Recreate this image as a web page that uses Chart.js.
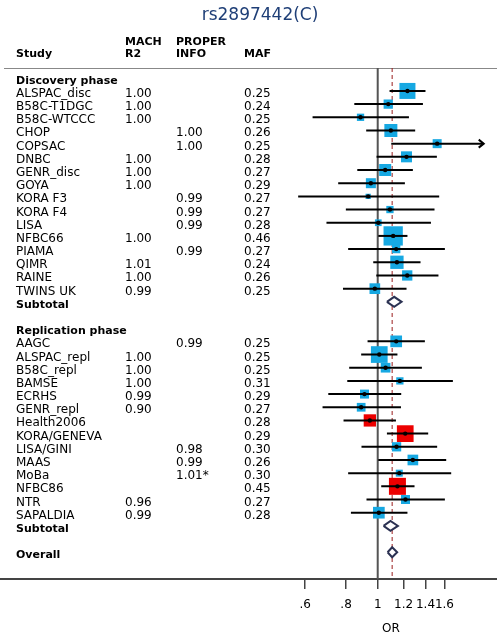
<!DOCTYPE html>
<html>
<head>
<meta charset="utf-8">
<script src="https://cdn.jsdelivr.net/npm/chart.js@4.4.1/dist/chart.umd.min.js"></script>
<style>
  html, body { margin: 0; padding: 0; background: #fff; }
  canvas { display: block; }
</style>
</head>
<body>
<canvas id="c" width="497" height="636"></canvas>
<script>
// ---------- DATA ----------
const titleText = 'rs2897442(C)';
const headerPhase1 = 'Discovery phase';
const headerPhase2 = 'Replication phase';

const discStudies = ['ALSPAC_disc','B58C-T1DGC','B58C-WTCCC','CHOP','COPSAC','DNBC','GENR_disc','GOYA','KORA F3','KORA F4','LISA','NFBC66','PIAMA','QIMR','RAINE','TWINS UK'];
const discMach    = ['1.00','1.00','1.00','','','1.00','1.00','1.00','','','','1.00','','1.01','1.00','0.99'];
const discProper  = ['','','','1.00','1.00','','','','0.99','0.99','0.99','','0.99','','',''];
const discMaf     = ['0.25','0.24','0.25','0.26','0.25','0.28','0.27','0.29','0.27','0.27','0.28','0.46','0.27','0.24','0.26','0.25'];
const discOR      = [1.233,1.077,0.886,1.097,1.52,1.225,1.054,0.953,0.935,1.090,1.004,1.115,1.139,1.145,1.231,0.980];
const discLo      = [1.087,0.848,0.632,0.922,1.10,0.992,0.866,0.757,0.571,0.799,0.697,1.004,0.812,0.969,0.990,0.783];
const discHi      = [1.400,1.375,1.246,1.302,2.11,1.517,1.281,1.211,1.542,1.492,1.455,1.233,1.605,1.352,1.534,1.225];
const discWeight  = [25.6,8.6,5.3,16.9,8.1,12.1,14.4,10.0,2.8,5.3,4.5,37.2,6.9,17.7,10.6,11.4];
const discArrow   = [false,false,false,false,true,false,false,false,false,false,false,false,false,false,false,false];
const discGroup   = ['b','b','b','b','b','b','b','b','b','b','b','b','b','b','b','b'];
const discSubtotal = [1.123, 1.067, 1.183]; // OR, lo, hi

const repStudies = ['AAGC','ALSPAC_repl','B58C_repl','BAMSE','ECRHS','GENR_repl','Health2006','KORA/GENEVA','LISA/GINI','MAAS','MoBa','NFBC86','NTR','SAPALDIA'];
const repMach    = ['','1.00','1.00','1.00','0.99','0.90','','','','','','','0.96','0.99'];
const repProper  = ['0.99','','','','','','','','0.98','0.99','1.01*','','',''];
const repMaf     = ['0.25','0.25','0.25','0.31','0.29','0.27','0.28','0.29','0.30','0.26','0.30','0.45','0.27','0.28'];
const repOR      = [1.139,1.011,1.057,1.169,0.911,0.890,0.946,1.214,1.142,1.281,1.164,1.149,1.216,1.008];
const repLo      = [0.931,0.890,0.818,0.807,0.706,0.678,0.786,1.067,0.892,1.004,0.812,1.025,0.924,0.828];
const repHi      = [1.394,1.149,1.365,1.698,1.180,1.178,1.137,1.427,1.520,1.620,1.678,1.296,1.605,1.233];
const repWeight  = [13.7,27.9,9.4,5.3,8.1,7.6,15.1,27.9,8.6,11.4,4.9,28.9,8.1,13.7];
const repArrow   = [false,false,false,false,false,false,false,false,false,false,false,false,false,false];
const repGroup   = ['b','b','b','b','b','b','r','r','b','b','b','r','b','b'];
const repSubtotal = [1.094, 1.042, 1.153];

const overall = [1.107, 1.072, 1.147];

const tickValues = [0.6, 0.8, 1, 1.2, 1.4, 1.6];
const tickLabels = ['.6', '.8', '1', '1.2', '1.4', '1.6'];
const axisTitle = 'OR';

// ---------- ROW LAYOUT ----------
const discHeaderRow = 0;
const discStartRow = 1;
const discSubRow = discStartRow + discStudies.length;
const repHeaderRow = discSubRow + 2;
const repStartRow = repHeaderRow + 1;
const repSubRow = repStartRow + repStudies.length;
const overallRow = repSubRow + 2;
const yMin = -0.74, yMax = 38.03;
const xMin = 0.0699, xMax = 2.317;

const studies = [];
discStudies.forEach((s, i) => studies.push({name: s, mach: discMach[i], proper: discProper[i], maf: discMaf[i],
  or: discOR[i], lo: discLo[i], hi: discHi[i], w: discWeight[i], arrow: discArrow[i], g: discGroup[i], row: discStartRow + i}));
repStudies.forEach((s, i) => studies.push({name: s, mach: repMach[i], proper: repProper[i], maf: repMaf[i],
  or: repOR[i], lo: repLo[i], hi: repHi[i], w: repWeight[i], arrow: repArrow[i], g: repGroup[i], row: repStartRow + i}));

const summaries = [
  {label: 'Subtotal', v: discSubtotal, row: discSubRow},
  {label: 'Subtotal', v: repSubtotal, row: repSubRow},
  {label: 'Overall', v: overall, row: overallRow}
];

const BLUE = 'rgb(22,168,226)';
const RED = 'rgb(236,0,0)';

// ---------- DATASETS ----------
const datasets = [];
// reference lines
datasets.push({data: [{x: 1, y: yMin}, {x: 1, y: yMax}], showLine: true, borderColor: '#555', borderWidth: 2,
  pointRadius: 0, order: 5});
datasets.push({data: [{x: overall[0], y: yMin}, {x: overall[0], y: yMax}], showLine: true, borderColor: '#9B1C1C',
  borderWidth: 1, borderDash: [4, 3], pointRadius: 0, order: 5});
// squares
datasets.push({data: studies.map(s => ({x: s.or, y: s.row})), showLine: false, pointStyle: 'rect',
  pointRadius: ctx => Math.sqrt(studies[ctx.dataIndex].w * 10) / Math.SQRT2,
  pointBackgroundColor: ctx => studies[ctx.dataIndex].g === 'r' ? RED : BLUE,
  pointBorderWidth: 0, borderWidth: 0, order: 3});
// CI lines
studies.forEach(s => datasets.push({data: [{x: s.lo, y: s.row}, {x: s.hi, y: s.row}], showLine: true,
  borderColor: '#000', borderWidth: 2, pointRadius: 0, order: 2}));
// dots
datasets.push({data: studies.map(s => ({x: s.or, y: s.row})), showLine: false, pointStyle: 'circle',
  pointRadius: 2.2, pointBackgroundColor: '#000', pointBorderWidth: 0, borderWidth: 0, order: 1});
// diamonds
const dh = 0.38;
summaries.forEach(d => datasets.push({
  data: [{x: d.v[1], y: d.row}, {x: d.v[0], y: d.row - dh}, {x: d.v[2], y: d.row}, {x: d.v[0], y: d.row + dh}, {x: d.v[1], y: d.row}],
  showLine: true, borderColor: '#2B3152', borderWidth: 2, pointRadius: 0, fill: 'shape', backgroundColor: '#fff',
  tension: 0, order: 1}));

// ---------- PLUGIN: table text, arrows, frame ----------
const FONT = '"DejaVu Sans", Verdana, sans-serif';
const tablePlugin = {
  id: 'table',
  beforeDatasetsDraw(chart) {
    const ctx = chart.ctx, a = chart.chartArea;
    ctx.save();
    ctx.strokeStyle = '#888';
    ctx.lineWidth = 1;
    ctx.beginPath();
    ctx.moveTo(4, a.top + 0.5);
    ctx.lineTo(497, a.top + 0.5);
    ctx.stroke();
    ctx.restore();
  },
  afterDatasetsDraw(chart) {
    const ctx = chart.ctx, xs = chart.scales.x, ys = chart.scales.y;
    ctx.save();
    ctx.strokeStyle = '#000';
    ctx.lineWidth = 2;
    studies.forEach(s => {
      if (!s.arrow) return;
      const px = xs.getPixelForValue(s.hi), py = ys.getPixelForValue(s.row);
      ctx.beginPath();
      ctx.moveTo(px - 5, py - 4);
      ctx.lineTo(px, py);
      ctx.lineTo(px - 5, py + 4);
      ctx.stroke();
    });
    ctx.restore();
  },
  afterDraw(chart) {
    const ctx = chart.ctx, ys = chart.scales.y;
    ctx.save();
    ctx.textBaseline = 'alphabetic';
    ctx.textAlign = 'left';
    // title
    ctx.fillStyle = '#1F3F77';
    ctx.font = '17px ' + FONT;
    ctx.textAlign = 'center';
    ctx.fillText(titleText, 260, 20);
    ctx.textAlign = 'left';
    ctx.fillStyle = '#000';
    // headers
    ctx.font = 'bold 11px ' + FONT;
    ctx.fillText('Study', 16, 57);
    ctx.fillText('MACH', 125, 45);
    ctx.fillText('R2', 125, 57);
    ctx.fillText('PROPER', 176, 45);
    ctx.fillText('INFO', 176, 57);
    ctx.fillText('MAF', 244, 57);
    const by = r => ys.getPixelForValue(r) + 6;
    ctx.fillText(headerPhase1, 16, by(discHeaderRow));
    ctx.fillText(headerPhase2, 16, by(repHeaderRow));
    summaries.forEach(d => ctx.fillText(d.label, 16, by(d.row)));
    ctx.font = '12px ' + FONT;
    studies.forEach(s => {
      const y = by(s.row);
      ctx.fillText(s.name, 16, y);
      if (s.mach) ctx.fillText(s.mach, 125, y);
      if (s.proper) ctx.fillText(s.proper, 176, y);
      ctx.fillText(s.maf, 244, y);
    });
    // axis title
    ctx.textAlign = 'center';
    ctx.fillText(axisTitle, 391, 632);
    ctx.restore();
  }
};

new Chart(document.getElementById('c'), {
  type: 'line',
  data: {datasets},
  options: {
    responsive: false,
    animation: false,
    events: [],
    layout: {autoPadding: false, padding: {top: 68, left: 0, right: 0, bottom: 0}},
    plugins: {legend: {display: false}, tooltip: {enabled: false}},
    scales: {
      x: {
        type: 'logarithmic', min: xMin, max: xMax,
        afterBuildTicks: s => { s.ticks = tickValues.map(v => ({value: v})); },
        afterFit: s => { s.height = 57; s.paddingLeft = 0; s.paddingRight = 0; },
        ticks: {callback: (v, i) => tickLabels[i], autoSkip: false, maxRotation: 0, minRotation: 0,
          font: {family: FONT, size: 12}, color: '#000', padding: 9},
        grid: {display: true, drawOnChartArea: false, drawTicks: true, tickLength: 10, color: '#444', lineWidth: 1.5},
        border: {display: true, color: '#444', width: 2},
        title: {display: false}
      },
      y: {type: 'linear', reverse: true, min: yMin, max: yMax, display: false}
    }
  },
  plugins: [tablePlugin]
});
</script>
</body>
</html>
